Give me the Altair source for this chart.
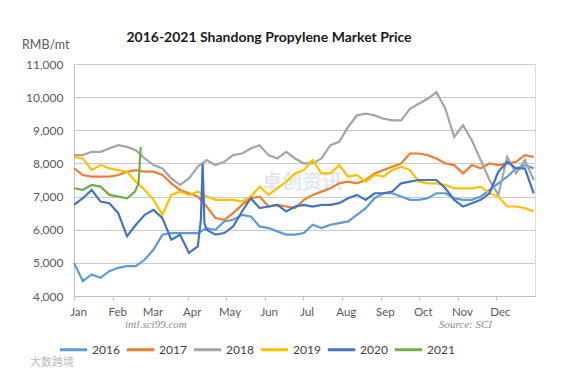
import altair as alt
import pandas as pd

YEARS = ["2016", "2017", "2018", "2019", "2020", "2021"]
COLORS = ["#5B9BD5", "#ED7D31", "#A5A5A5", "#FFC000", "#4472C4", "#70AD47"]
MONTHS = ["Jan", "Feb", "Mar", "Apr", "May", "Jun", "Jul", "Aug", "Sep", "Oct", "Nov", "Dec"]
MONTH_START_DAYS = [1, 32, 60, 91, 121, 152, 182, 213, 244, 274, 305, 335]
Y_TICKS = [4000, 5000, 6000, 7000, 8000, 9000, 10000, 11000]

TITLE = "2016-2021  Shandong Propylene Market Price"
UNIT = "RMB/mt"
SITE = "intl.sci99.com"
SOURCE = "Source: SCI"
WATERMARK = "卓创资讯"
LOGO = "大数跨境"

WEEKS = list(range(53))

p2016 = [5000, 4450, 4650, 4550, 4750, 4850, 4900, 4900, 5100, 5400,
         5850, 5900, 5900, 5900, 5900, 6050, 6000, 6250, 6300, 6450,
         6400, 6100, 6050, 5950, 5850, 5850, 5900, 6150, 6050, 6150,
         6200, 6250, 6450, 6650, 6950, 7100, 7100, 7000, 6900, 6900,
         6950, 7100, 7100, 6950, 6900, 6900, 7000, 7200, 7400, 7600,
         7850, 7950, 7850]
p2017 = [7850, 7650, 7600, 7600, 7600, 7650, 7750, 7800, 7750, 7750,
         7650, 7400, 7200, 7100, 7000, 6700, 6350, 6300, 6500, 6750,
         6950, 7000, 6700, 6750, 6700, 6650, 6900, 7050, 7150, 7250,
         7400, 7450, 7400, 7500, 7700, 7800, 7900, 8000, 8300, 8300,
         8250, 8150, 8000, 7950, 7700, 7950, 7850, 8000, 7950, 8000,
         8050, 8250, 8200]
p2018 = [8250, 8250, 8350, 8350, 8450, 8550, 8500, 8400, 8150, 7950,
         7850, 7550, 7350, 7550, 7900, 8100, 7950, 8050, 8250, 8300,
         8450, 8550, 8250, 8150, 8350, 8150, 8000, 8000, 8150, 8550,
         8650, 9100, 9450, 9500, 9450, 9350, 9300, 9300, 9650, 9800,
         9950, 10150, 9650, 8800, 9150, 8700, 8100, 7500, 7050, 8200,
         7700, 8100, 7500]
p2019 = [8200, 8150, 7800, 7950, 7850, 7800, 7750, 7450, 7200, 6900,
         6450, 7050, 7150, 7050, 7150, 7000, 6900, 6900, 6900, 6850,
         7000, 7300, 7050, 7250, 7450, 7700, 7800, 8100, 7700, 7700,
         7950, 7600, 7650, 7450, 7650, 7600, 7800, 7900, 7800, 7450,
         7400, 7400, 7350, 7250, 7250, 7250, 7300, 7100, 7000, 6700,
         6700, 6650, 6550]
w2020 = list(range(15)) + [14.35, 14.55, 14.75] + list(range(15, 53))
p2020 = [6750, 6950, 7200, 6850, 6800, 6500, 5800, 6150, 6450, 6600,
         6350, 5700, 5850, 5300, 5500,
         6300, 8000, 6200,
         6000, 5850, 5900, 6100, 6550, 6950, 6650, 6700, 6750, 6550,
         6700, 6750, 6700, 6750, 6750, 6800, 6950, 7050, 6900, 7100,
         7100, 7150, 7400, 7450, 7500, 7500, 7500, 7250, 6900, 6700,
         6800, 6900, 7100, 7750, 8050, 7850, 7850, 7100]
w2021 = [0, 1, 2, 3, 4, 5, 6, 6.9, 7.3, 7.55]
p2021 = [7250, 7200, 7350, 7300, 7050, 7000, 6950, 7150, 7400, 8500]

series = [
    ("2016", WEEKS, p2016),
    ("2017", WEEKS, p2017),
    ("2018", WEEKS, p2018),
    ("2019", WEEKS, p2019),
    ("2020", w2020, p2020),
    ("2021", w2021, p2021),
]
rows = []
for year, weeks, vals in series:
    for i, (w, v) in enumerate(zip(weeks, vals)):
        rows.append({"year": year, "day": 1 + 7 * w, "price": v, "order": i})
df = pd.DataFrame(rows)

W, H = 461, 232
FONT = "Lato"
AX_COLOR = "#595959"

month_expr = "[" + ",".join("'%s'" % m for m in MONTHS) + "][indexof([" + \
    ",".join(str(d) for d in MONTH_START_DAYS) + "], datum.value)]"

lines = alt.Chart(df).mark_line(strokeWidth=2.2).encode(
    x=alt.X("day:Q",
            scale=alt.Scale(domain=[1, 366], nice=False, zero=False),
            axis=alt.Axis(values=MONTH_START_DAYS, labelExpr=month_expr, title=None,
                          grid=False, tickSize=4, tickColor="#BFBFBF",
                          domainColor="#BFBFBF", labelColor=AX_COLOR, labelFont=FONT,
                          labelFontSize=11.5, labelPadding=6, labelOffset=4,
                          labelFlush=False)),
    y=alt.Y("price:Q",
            scale=alt.Scale(domain=[4000, 11000], nice=False, zero=False),
            axis=alt.Axis(values=Y_TICKS, format=",.0f", title=None, grid=True,
                          gridColor="#CACACA", tickSize=0, domainColor="#BFBFBF",
                          labelColor=AX_COLOR, labelFont=FONT, labelFontSize=12,
                          labelPadding=11, labelFlush=False)),
    color=alt.Color("year:N",
                    scale=alt.Scale(domain=YEARS, range=COLORS),
                    legend=alt.Legend(title=None, orient="none", direction="horizontal",
                                      legendX=-16, legendY=270, symbolType="stroke",
                                      symbolSize=750, symbolStrokeWidth=3,
                                      labelFont=FONT, labelFontSize=12,
                                      labelColor="#404040", columnPadding=0,
                                      labelOffset=3)),
    order=alt.Order("order:Q"),
)

def text_layer(txt, x, y, **kw):
    return alt.Chart(pd.DataFrame({"t": [txt]})).mark_text(**kw).encode(
        text="t:N", x=alt.value(x), y=alt.value(y))

title = text_layer(TITLE, 195, -26, font=FONT, fontSize=14, fontWeight="bold",
                   color="#1a1a1a", align="center", baseline="middle")
unit = text_layer(UNIT, -52, -19, font=FONT, fontSize=12.5, color=AX_COLOR,
                  align="left", baseline="middle")
site = text_layer(SITE, 51, 261, font="Liberation Serif", fontSize=11, fontStyle="italic",
                  color="#8C8C8C", align="left", baseline="middle")
source = text_layer(SOURCE, 418, 261, font="Liberation Serif", fontSize=11,
                    fontStyle="italic", color="#8C8C8C", align="right", baseline="middle")
wm = text_layer(WATERMARK, 228, 119, font="Noto Sans CJK SC", fontSize=20,
                fontWeight="bold", color="#C9D7EA", opacity=0.55, align="center",
                baseline="middle")
logo = text_layer(LOGO, -44, 299, font="Noto Sans CJK SC", fontSize=11,
                  color="#BBBBBB", align="left", baseline="middle")

chart = alt.layer(wm, lines, title, unit, site, source, logo).properties(
    width=W, height=H,
    autosize=alt.AutoSizeParams(type="none"),
    padding={"left": 66, "top": 56, "right": 18, "bottom": 78},
).configure_view(stroke=None).configure(background="white")

chart.save("out.html", embed_options={"renderer": "svg", "actions": False})
